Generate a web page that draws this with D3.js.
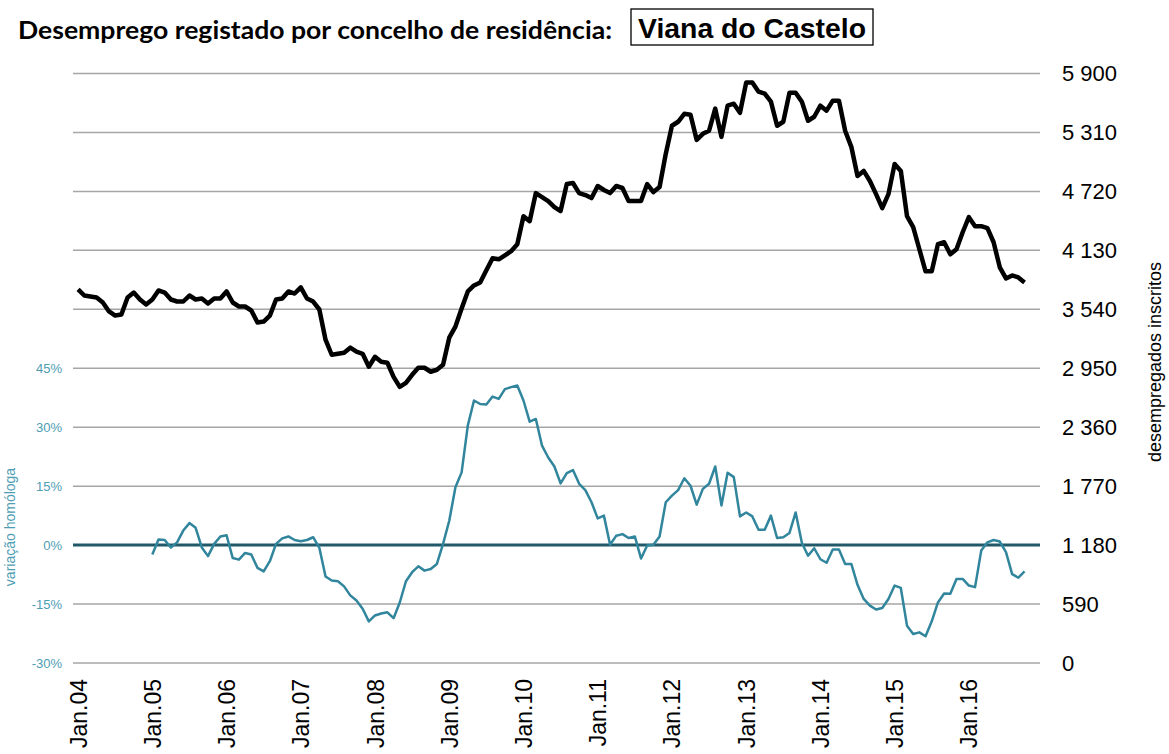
<!DOCTYPE html>
<html>
<head>
<meta charset="utf-8">
<script src="https://cdn.jsdelivr.net/npm/d3@7"></script>
<style>
  body { margin: 0; background: #fff; }
  svg { display: block; }
</style>
</head>
<body>
<script>
// Desemprego registado - Viana do Castelo, mensal Jan.2004 - Out.2016
var desempregados = [
  3740,3678,3668,3658,3608,3518,3477,3487,3658,3708,3638,3588, // 2004
  3638,3729,3708,3638,3618,3618,3678,3638,3648,3598,3648,3648, // 2005
  3719,3608,3568,3568,3528,3407,3417,3477,3638,3648,3719,3698, // 2006
  3759,3648,3618,3538,3236,3085,3095,3105,3156,3116,3095,2965, // 2007
  3065,3015,3005,2864,2764,2804,2884,2955,2955,2915,2935,2985, // 2008
  3256,3367,3548,3719,3779,3809,3930,4050,4040,4080,4121,4191, // 2009
  4472,4422,4703,4663,4623,4563,4523,4794,4804,4703,4683,4653, // 2010
  4774,4734,4703,4774,4754,4623,4623,4623,4794,4713,4764,5095, // 2011
  5377,5417,5497,5487,5236,5296,5327,5548,5266,5578,5598,5507, // 2012
  5809,5809,5718,5698,5618,5377,5417,5708,5708,5618,5427,5467, // 2013
  5578,5528,5628,5628,5327,5166,4874,4925,4824,4693,4553,4693, // 2014
  4995,4925,4472,4362,4141,3920,3920,4191,4211,4090,4141,4311, // 2015
  4462,4372,4372,4352,4211,3960,3849,3879,3859,3809             // 2016
];

// variação homóloga (%), começa em Jan.2005
var variacao = [
  -2.4,1.4,1.3,-0.6,0.7,3.7,5.6,4.4,-0.6,-2.8,0.3,2.2,            // 2005
  2.5,-3.3,-3.7,-2.0,-2.4,-5.8,-6.7,-4.1,0.3,1.7,2.2,1.3,         // 2006
  1.0,1.3,2.0,-0.7,-8.0,-9.0,-9.2,-10.5,-12.8,-14.1,-16.2,-19.4,  // 2007
  -17.9,-17.4,-17.1,-18.6,-14.6,-9.2,-6.9,-5.4,-6.5,-6.1,-4.8,0.3,// 2008
  6.2,14.7,18.5,30.4,36.8,35.9,35.8,37.8,37.2,39.7,40.2,40.6,     // 2009
  36.8,31.4,32.1,25.3,22.3,20.0,15.7,18.3,19.1,15.6,14.0,10.9,    // 2010
  6.8,7.5,0.1,2.4,2.8,1.8,2.2,-3.4,-0.1,0.1,2.2,10.9,             // 2011
  12.6,14.0,17.0,15.1,10.3,14.3,15.6,20.0,10.1,18.4,17.3,7.3,     // 2012
  8.3,7.3,3.9,3.9,7.5,1.8,2.0,3.1,8.3,0.6,-2.7,-0.8,              // 2013
  -3.6,-4.5,-1.1,-1.1,-4.8,-4.8,-10.1,-13.7,-15.4,-16.4,-16.0,-13.7, // 2014
  -10.3,-10.9,-20.5,-22.6,-22.2,-23.2,-19.4,-14.6,-12.3,-12.4,-8.6,-8.6, // 2015
  -10.3,-10.7,-1.4,0.7,1.3,0.9,-1.8,-7.4,-8.3,-6.7                // 2016
];
var variacaoInicio = 12; // primeiro mês com variação (Jan.05)

var anos = ["Jan.04","Jan.05","Jan.06","Jan.07","Jan.08","Jan.09","Jan.10",
            "Jan.11","Jan.12","Jan.13","Jan.14","Jan.15","Jan.16"];
var ticksDireita = [0,590,1180,1770,2360,2950,3540,4130,4720,5310,5900];
var ticksEsquerda = [-30,-15,0,15,30,45];

var width = 1169, height = 754;
var nMeses = 156; // categorias Jan.04 - Dez.16

var teal = "#31859c",
    tealTexto = "#4e9db3",
    zeroCor = "#215968",
    grelha = "#a6a6a6";

var svg = d3.select("body").append("svg")
    .attr("width", width)
    .attr("height", height);

var x = d3.scaleLinear().domain([-0.5, nMeses - 0.5]).range([75, 1040]);
var yR = d3.scaleLinear().domain([0, 5900]).range([663, 73.5]);
var yL = d3.scaleLinear().domain([-30, 45]).range([663, 368.25]);

var fmtNum = function(d) { return d3.format(",")(d).replace(/,/g, " "); };

// gridlines
svg.append("g").selectAll("line")
    .data(ticksDireita.filter(function(d) { return d !== 1180; }))
  .enter().append("line")
    .attr("x1", 73).attr("x2", 1040)
    .attr("y1", function(d) { return yR(d); })
    .attr("y2", function(d) { return yR(d); })
    .attr("stroke", grelha)
    .attr("stroke-width", 1.5);

// zero line (variação = 0)
svg.append("line")
    .attr("x1", 73).attr("x2", 1040)
    .attr("y1", yL(0)).attr("y2", yL(0))
    .attr("stroke", zeroCor)
    .attr("stroke-width", 3);

// right axis labels
svg.append("g").selectAll("text")
    .data(ticksDireita)
  .enter().append("text")
    .attr("x", 1062)
    .attr("y", function(d) { return yR(d); })
    .attr("dy", "0.36em")
    .style("font-family", "'Liberation Sans', Arial, sans-serif")
    .style("font-size", "22px")
    .attr("fill", "#000")
    .text(fmtNum);

// left axis labels
svg.append("g").selectAll("text")
    .data(ticksEsquerda)
  .enter().append("text")
    .attr("x", 62)
    .attr("y", function(d) { return yL(d); })
    .attr("dy", "0.36em")
    .attr("text-anchor", "end")
    .style("font-family", "'Liberation Sans', Arial, sans-serif")
    .style("font-size", "13px")
    .attr("fill", tealTexto)
    .text(function(d) { return d + "%"; });

// x labels (rotated)
svg.append("g").selectAll("text")
    .data(anos)
  .enter().append("text")
    .attr("transform", function(d, i) {
      return "translate(" + (x(i * 12) + 8.5) + ",679) rotate(-90)";
    })
    .attr("text-anchor", "end")
    .style("font-family", "'Liberation Sans', Arial, sans-serif")
    .style("font-size", "23px")
    .attr("fill", "#000")
    .text(function(d) { return d; });

// axis titles
svg.append("text")
    .attr("transform", "translate(1161,362) rotate(-90)")
    .attr("text-anchor", "middle")
    .style("font-family", "'Liberation Sans', Arial, sans-serif")
    .style("font-size", "18px")
    .attr("fill", "#000")
    .text("desempregados inscritos");

svg.append("text")
    .attr("transform", "translate(15,527) rotate(-90)")
    .attr("text-anchor", "middle")
    .style("font-family", "'Liberation Sans', Arial, sans-serif")
    .style("font-size", "14px")
    .attr("fill", tealTexto)
    .text("variação homóloga");

// lines
var lineR = d3.line()
    .x(function(d, i) { return x(i); })
    .y(function(d) { return yR(d); });

var lineL = d3.line()
    .x(function(d, i) { return x(i + variacaoInicio); })
    .y(function(d) { return yL(d); });

svg.append("path")
    .datum(variacao)
    .attr("d", lineL)
    .attr("fill", "none")
    .attr("stroke", teal)
    .attr("stroke-width", 2.5)
    .attr("stroke-linejoin", "round");

svg.append("path")
    .datum(desempregados)
    .attr("d", lineR)
    .attr("fill", "none")
    .attr("stroke", "#000")
    .attr("stroke-width", 4.5)
    .attr("stroke-linejoin", "round");

// title
svg.append("text")
    .attr("x", 18).attr("y", 39)
    .attr("textLength", 594)
    .attr("lengthAdjust", "spacingAndGlyphs")
    .style("font-family", "Lato, 'Open Sans', sans-serif")
    .style("font-weight", "bold")
    .style("font-size", "25px")
    .attr("fill", "#000")
    .text("Desemprego registado por concelho de residência:");

svg.append("rect")
    .attr("x", 631).attr("y", 9)
    .attr("width", 242).attr("height", 36)
    .attr("fill", "#fff")
    .attr("stroke", "#000")
    .attr("stroke-width", 1.3);

svg.append("text")
    .attr("x", 638).attr("y", 38)
    .attr("textLength", 228)
    .attr("lengthAdjust", "spacingAndGlyphs")
    .style("font-family", "'Liberation Sans', Arial, sans-serif")
    .style("font-weight", "bold")
    .style("font-size", "28px")
    .attr("fill", "#000")
    .text("Viana do Castelo");
</script>
</body>
</html>
